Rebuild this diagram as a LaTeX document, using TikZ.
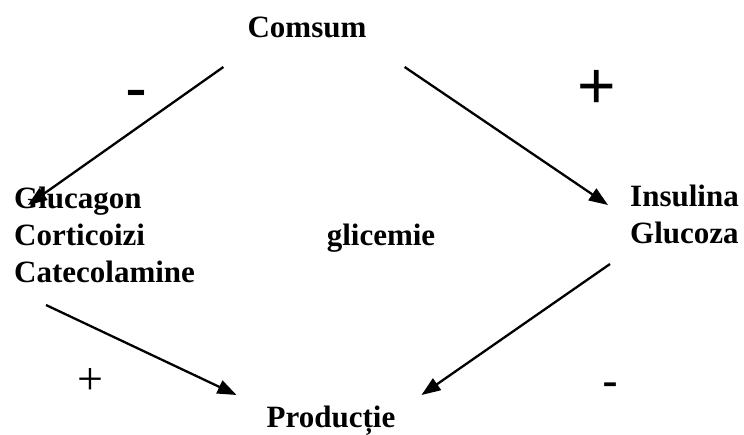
\documentclass[tikz,border=0pt]{standalone}
\usepackage{fontspec}
\setmainfont{Liberation Serif}
\newfontfamily\signfont{Liberation Sans}
\usetikzlibrary{arrows.meta}
\begin{document}
\begin{tikzpicture}
  [x=1pt,y=-1pt,every node/.style={inner sep=0pt,font=\fontsize{31}{37}\selectfont\bfseries}]
  \tikzstyle{sign} = [font=\fontsize{66}{66}\selectfont\signfont]
  \tikzstyle{link} = [line width=2.3pt,-{Triangle[length=19pt,width=14pt]}]
  \useasboundingbox (0,0) rectangle (744,434);
  \node[anchor=base] (com) at (307,37) {Comsum};
  \node[anchor=base west,align=left] (glu) at (14,282) {Glucagon\\Corticoizi\\Catecolamine};
  \node[anchor=base] (gli) at (381,245) {glicemie};
  \node[anchor=base west,align=left] (ins) at (630,243) {Insulina\\Glucoza};
  \node[anchor=base] (pro) at (331,427) {Producție};
  % signs
  \node[sign] (s1) at (136,100) {-};
  \node[sign] (s2) at (597,89) {+};
  \node[sign,font=\fontsize{46}{46}\selectfont] (s3) at (90,382) {+};
  \node[sign,font=\fontsize{48}{48}\selectfont\signfont] (s4) at (610,390) {-};
  % arrow ends
  \coordinate (c1) at ([shift={(-24,30)}]com.base west);
  \coordinate (c2) at ([shift={(38,30)}]com.base east);
  \coordinate (g1) at ([shift={(14,-77)}]glu.base west);
  \coordinate (g2) at ([shift={(32,23)}]glu.base west);
  \coordinate (i1) at ([shift={(-22,-38)}]ins.base west);
  \coordinate (i2) at ([shift={(-20,21)}]ins.base west);
  \coordinate (p1) at ([shift={(-30,-32)}]pro.base west);
  \coordinate (p2) at ([shift={(26,-32)}]pro.base east);
  \foreach \source/\dest in {c1/g1,c2/i1,g2/p1,i2/p2}
    \draw[link] (\source) -- (\dest);
\end{tikzpicture}
\end{document}
